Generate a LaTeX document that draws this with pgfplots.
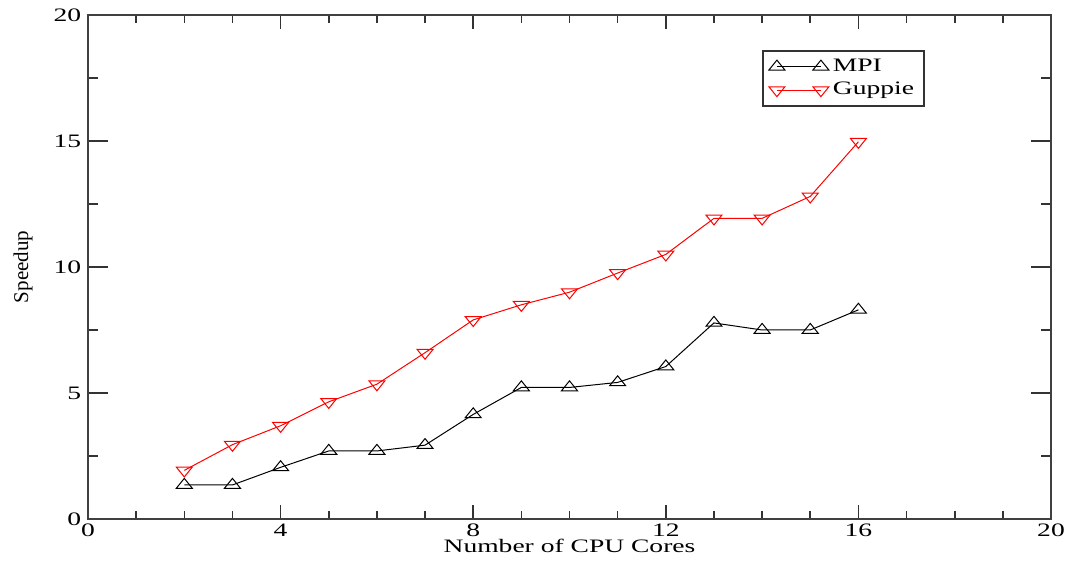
\documentclass[border=0pt]{standalone}
\usepackage{fontspec}
\setmainfont[FakeStretch=1.45]{Liberation Serif}
\newfontfamily\plainserif{Liberation Serif}
\usepackage{pgfplots}
\pgfplotsset{compat=1.18}

\pgfplotstableread{
cores speedup
2 1.35
3 1.35
4 2.05
5 2.7
6 2.7
7 2.93
8 4.15
9 5.22
10 5.22
11 5.42
12 6.05
13 7.78
14 7.5
15 7.5
16 8.3
}\mpidata

\pgfplotstableread{
cores speedup
2 1.93
3 2.95
4 3.7
5 4.65
6 5.35
7 6.6
8 7.9
9 8.5
10 9.0
11 9.76
12 10.5
13 11.93
14 11.93
15 12.8
16 14.97
}\guppiedata

\begin{document}
\fontsize{9.5pt}{11pt}\selectfont
\begin{tikzpicture}
\begin{axis}[
  scale only axis,
  width=481.5pt, height=252pt,
  xmin=0, xmax=20, ymin=0, ymax=20,
  xtick={0,4,...,20}, ytick={0,5,...,20},
  minor x tick num=3, minor y tick num=1,
  tick align=inside,
  xtick style={/pgfplots/major tick length=7pt, /pgfplots/minor tick length=4pt},
  ytick style={/pgfplots/major tick length=10pt, /pgfplots/minor tick length=5pt},
  tick style={black!80, line width=0.8pt},
  axis line style={black!75, line width=1pt},
  /pgf/number format/assume math mode=true,
  xticklabel style={yshift=1pt},
  xlabel={Number of CPU Cores},
  ylabel={Speedup},
  xlabel style={yshift=5pt},
  ylabel style={yshift=4pt, font=\plainserif\fontsize{10.5pt}{12pt}\selectfont},
  legend cell align=left,
  legend style={at={(0.700,0.930)}, anchor=north west, draw=black!80,
    line width=0.8pt, inner xsep=3pt, inner ysep=2pt, row sep=0pt,
    font=\fontsize{9.5pt}{11pt}\selectfont},
  legend image code/.code={\draw[#1] plot coordinates {(0pt,0pt) (22pt,0pt)};},
]
\addplot[black, line width=0.5pt, mark=triangle, mark size=3.3pt,
  mark options={xscale=1.4, solid}] table[x=cores, y=speedup] {\mpidata};
\addlegendentry{MPI}
\addplot[red, line width=0.5pt, mark=triangle, mark size=3.3pt,
  mark options={xscale=1.4, rotate=180, solid}] table[x=cores, y=speedup] {\guppiedata};
\addlegendentry{Guppie}
\end{axis}
\pgfresetboundingbox
\path (-44pt,-26pt) rectangle (495.5pt,259.5pt);
\end{tikzpicture}
\end{document}
